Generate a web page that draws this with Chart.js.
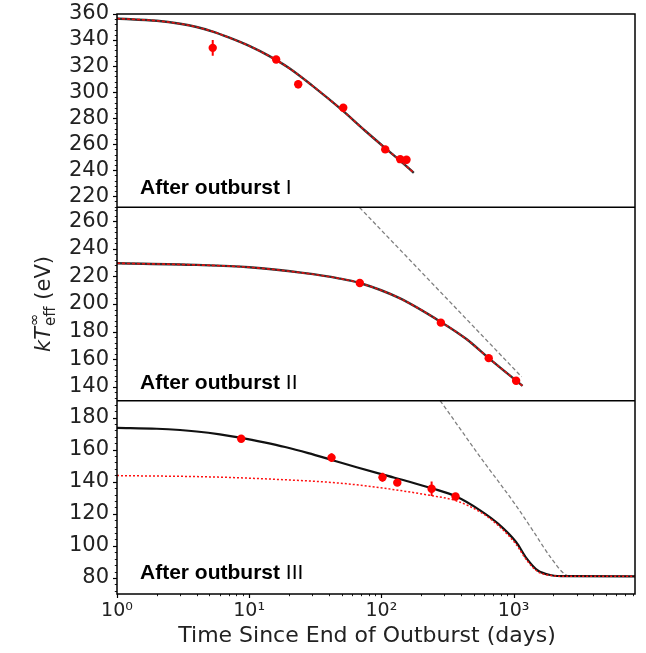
<!DOCTYPE html>
<html><head><meta charset="utf-8">
<script src="https://cdn.jsdelivr.net/npm/chart.js@4.4.1/dist/chart.umd.min.js"></script>
<style>html,body{margin:0;padding:0;background:#fff;}canvas{display:block;}</style>
</head><body>
<canvas id="c" width="646" height="653"></canvas>
<script>
// ---------- data ----------
const X_MIN = 1, X_MAX = 8300;
const X_TICKS = [1, 10, 100, 1000];
const X_TICK_LABELS = ['10\u2070', '10\u00B9', '10\u00B2', '10\u00B3'];
const X_TITLE = 'Time Since End of Outburst (days)';

const PANEL_LABELS = ['After outburst', 'After outburst', 'After outburst'];
const PANEL_NUMERALS = ['I', 'II', 'III'];

const P1_RANGE = [211.5, 360];
const P2_RANGE = [130, 270];
const P3_RANGE = [70, 190.5];
const P1_TICKS = [220, 240, 260, 280, 300, 320, 340, 360];
const P2_TICKS = [140, 160, 180, 200, 220, 240, 260];
const P3_TICKS = [80, 100, 120, 140, 160, 180];

// observed temperatures (days, eV, 1-sigma)
const P1_T   = [5.3, 16.0, 23.5, 51.5, 107, 139, 155];
const P1_KT  = [334, 325, 306, 288, 256, 248.5, 248];
const P1_ERR = [6, 2.5, 3, 2.5, 2, 2.5, 3];

const P2_T   = [68.7, 282, 649, 1046];
const P2_KT  = [215.2, 186.5, 160.8, 144.4];
const P2_ERR = [1.5, 1.5, 1.5, 1.5];

const P3_T   = [8.7, 42, 102, 132, 240, 364];
const P3_KT  = [166.8, 155, 142.7, 139.4, 135.6, 130.8];
const P3_ERR = [1.5, 2.8, 2.8, 1.5, 4.5, 2];

// model curves
const P1_FIT_T  = [1, 2, 3, 4, 5.3, 7, 10, 14, 20, 30, 50, 75, 107, 140, 176];
const P1_FIT_KT = [356.5, 354.8, 352.5, 350, 346.5, 342, 335.5, 328, 318.5, 305, 286.5, 270.5, 257, 247, 238];

const P2_FIT_T  = [1, 4, 10, 25.5, 47.4, 68.7, 136, 282, 440, 649, 1170];
const P2_FIT_KT = [229.5, 228.3, 226.6, 222.5, 218.6, 215.2, 204.4, 187, 174.6, 160.8, 140.7];
const P2_COOL_T  = [50, 68.7, 150, 300, 600, 1150];
const P2_COOL_KT = [283.5, 269.7, 235.8, 205.7, 175.6, 147.3];

const P3_BLACK_T  = [1, 2, 3, 4, 6, 8.76, 13, 18.7, 28, 42.7, 65, 103, 163, 241, 365, 562, 767, 1045, 1260, 1515, 1940, 2500, 8300];
const P3_BLACK_KT = [173.5, 173, 172.2, 171.3, 169.5, 167.3, 164.5, 161.6, 157.8, 153.4, 149, 144.4, 140, 135.9, 130.9, 122, 113.7, 102.4, 92, 84.8, 81.7, 81.1, 81];
const P3_RED_T  = [1, 5, 13.8, 47, 103, 240, 365, 562, 767, 1045, 1260, 1515, 1940, 2500, 8300];
const P3_RED_KT = [143.8, 143, 141.7, 139.2, 136, 131.3, 128.2, 121, 112.7, 101, 91, 84.1, 81.5, 81, 81];
const P3_COOL_T  = [200, 276, 562, 1045, 1425, 1940, 2485, 2800, 8300];
const P3_COOL_KT = [207, 191, 155.2, 125.1, 108.6, 92, 82, 81.2, 81];

// ---------- helpers ----------
const pts = (t, v) => t.map((x, i) => ({x: x, y: v[i]}));
function pointsDS(axis, t, v, err) {
  return {type: 'line', yAxisID: axis, data: pts(t, v), errors: err, showLine: false,
    pointRadius: 4.2, pointBorderWidth: 0, pointBackgroundColor: '#ff0000',
    backgroundColor: '#ff0000', borderColor: '#ff0000'};
}
function lineDS(axis, t, v, color, width, dash) {
  return {type: 'line', yAxisID: axis, data: pts(t, v), borderColor: color,
    borderWidth: width, borderDash: dash || [], pointRadius: 0, fill: false,
    cubicInterpolationMode: 'monotone'};
}

const datasets = [
  pointsDS('y1', P1_T, P1_KT, P1_ERR),
  pointsDS('y2', P2_T, P2_KT, P2_ERR),
  pointsDS('y3', P3_T, P3_KT, P3_ERR),
  lineDS('y1', P1_FIT_T, P1_FIT_KT, '#e01010', 1.6, [3, 2]),
  lineDS('y2', P2_FIT_T, P2_FIT_KT, '#e01010', 1.6, [3, 2]),
  lineDS('y3', P3_RED_T, P3_RED_KT, '#ff1010', 1.5, [2, 2]),
  lineDS('y1', P1_FIT_T, P1_FIT_KT, '#333333', 2.4),
  lineDS('y2', P2_FIT_T, P2_FIT_KT, '#333333', 2.4),
  lineDS('y3', P3_BLACK_T, P3_BLACK_KT, '#111111', 2.2),
  lineDS('y2', P2_COOL_T, P2_COOL_KT, '#808080', 1.3, [4, 2.5]),
  lineDS('y3', P3_COOL_T, P3_COOL_KT, '#808080', 1.3, [4, 2.5])
];

const TICK_FONT = {family: 'DejaVu Sans', size: 21, lineHeight: 0.5};
function yScale(range, ticks, weight) {
  return {
    type: 'linear', position: 'left', stack: 'panels', stackWeight: 1, weight: weight,
    min: range[0], max: range[1],
    grid: {display: false, drawTicks: false}, border: {display: false},
    afterBuildTicks: s => { s.ticks = ticks.map(v => ({value: v})); },
    afterFit: s => { s.width = 117; },
    ticks: {font: TICK_FONT, color: '#222', padding: 8, autoSkip: false, callback: v => String(v)}
  };
}

const panelPlugin = {
  id: 'panelPlugin',
  beforeDatasetDraw(chart, args) {
    const ctx = chart.ctx, a = chart.chartArea, ys = args.meta.yScale, xs = args.meta.xScale;
    ctx.save();
    ctx.beginPath();
    ctx.rect(a.left, ys.top, a.right - a.left, ys.bottom - ys.top);
    ctx.clip();
    const ds = chart.data.datasets[args.index];
    if (ds.errors) {
      ctx.strokeStyle = '#ff0000'; ctx.lineWidth = 2;
      ds.data.forEach((p, i) => {
        const px = xs.getPixelForValue(p.x);
        ctx.beginPath();
        ctx.moveTo(px, ys.getPixelForValue(p.y - ds.errors[i]));
        ctx.lineTo(px, ys.getPixelForValue(p.y + ds.errors[i]));
        ctx.stroke();
      });
    }
  },
  afterDatasetDraw(chart) { chart.ctx.restore(); },
  afterDraw(chart) {
    const ctx = chart.ctx, a = chart.chartArea, xs = chart.scales.x;
    const ys = [chart.scales.y1, chart.scales.y2, chart.scales.y3];
    const TICKS = [P1_TICKS, P2_TICKS, P3_TICKS];
    ctx.save();
    ctx.strokeStyle = '#000';
    // y ticks
    ys.forEach((s, k) => {
      ctx.lineWidth = 1.2;
      TICKS[k].forEach(v => {
        const py = Math.round(s.getPixelForValue(v)) + 0.5;
        ctx.beginPath(); ctx.moveTo(a.left, py); ctx.lineTo(a.left - 4, py); ctx.stroke();
      });
      ctx.lineWidth = 0.9;
      for (let v = Math.ceil(s.min / 4) * 4; v <= s.max; v += 4) {
        if (v % 20 === 0) continue;
        const py = Math.round(s.getPixelForValue(v)) + 0.5;
        ctx.beginPath(); ctx.moveTo(a.left, py); ctx.lineTo(a.left - 2.2, py); ctx.stroke();
      }
    });
    // x ticks
    for (let d = 1; d <= X_MAX; d *= 10) {
      for (let m = 1; m <= 9; m++) {
        const v = d * m;
        if (v < X_MIN || v > X_MAX) continue;
        const px = Math.round(xs.getPixelForValue(v)) + 0.5;
        ctx.lineWidth = m === 1 ? 1.2 : 0.9;
        ctx.beginPath(); ctx.moveTo(px, a.bottom); ctx.lineTo(px, a.bottom + (m === 1 ? 4 : 2.2)); ctx.stroke();
      }
    }
    // box and separators
    ctx.lineWidth = 1.5;
    ctx.strokeRect(a.left, a.top, a.right - a.left, a.bottom - a.top);
    [ys[1].top, ys[2].top].forEach(y => {
      ctx.beginPath(); ctx.moveTo(a.left, y); ctx.lineTo(a.right, y); ctx.stroke();
    });
    // panel labels
    const offs = [13, 12, 15];
    ys.forEach((s, k) => {
      const by = s.bottom - offs[k];
      ctx.fillStyle = '#000';
      ctx.textBaseline = 'alphabetic'; ctx.textAlign = 'left';
      ctx.font = 'bold 21px "Liberation Sans"';
      const t1 = PANEL_LABELS[k] + ' ';
      ctx.fillText(t1, 140, by);
      const w1 = ctx.measureText(t1).width;
      ctx.font = '21px "Liberation Sans"';
      ctx.fillText(PANEL_NUMERALS[k], 140 + w1, by);
    });
    // x title
    ctx.fillStyle = '#222';
    ctx.font = '22px "DejaVu Sans"';
    ctx.textAlign = 'center'; ctx.textBaseline = 'middle';
    ctx.fillText(X_TITLE, (a.left + a.right) / 2 - 9, 636);
    // y title
    ctx.save();
    ctx.translate(42, (a.top + a.bottom) / 2);
    ctx.rotate(-Math.PI / 2);
    ctx.textAlign = 'left'; ctx.textBaseline = 'alphabetic';
    const F = 21, fi = 'italic ' + F + 'px "DejaVu Sans"', fn = F + 'px "DejaVu Sans"', fs = Math.round(F * 0.7) + 'px "DejaVu Sans"';
    ctx.font = fi; const wk = ctx.measureText('k').width, wT = ctx.measureText('T').width;
    ctx.font = fs; const wInf = ctx.measureText('\u221E').width, wEff = ctx.measureText('eff').width;
    ctx.font = fn; const wRest = ctx.measureText(' (eV)').width;
    const total = wk + wT + Math.max(wInf, wEff) + 1 + wRest;
    let x0 = -total / 2; const base = F * 0.36;
    ctx.font = fi; ctx.fillText('k', x0, base); x0 += wk; ctx.fillText('T', x0, base); x0 += wT + 1;
    ctx.font = fs; ctx.fillText('\u221E', x0, base - F * 0.48); ctx.fillText('eff', x0, base + F * 0.26);
    x0 += Math.max(wInf, wEff);
    ctx.font = fn; ctx.fillText(' (eV)', x0, base);
    ctx.restore();
    ctx.restore();
  }
};

new Chart(document.getElementById('c'), {
  type: 'line',
  data: {datasets: datasets},
  plugins: [panelPlugin],
  options: {
    responsive: false, animation: false, devicePixelRatio: 1,
    layout: {padding: {left: 0, right: 11, top: 14, bottom: 0}},
    plugins: {legend: {display: false}, tooltip: {enabled: false}, title: {display: false}},
    scales: {
      x: {
        type: 'logarithmic', position: 'bottom', min: X_MIN, max: X_MAX,
        grid: {display: false, drawTicks: false}, border: {display: false},
        afterBuildTicks: s => { s.ticks = X_TICKS.map(v => ({value: v})); },
        afterFit: s => { s.height = 59; },
        ticks: {font: {family: 'DejaVu Sans', size: 19}, color: '#222', padding: 6, maxRotation: 0, autoSkip: false,
          callback: (v) => { const i = X_TICKS.indexOf(v); return i >= 0 ? X_TICK_LABELS[i] : ''; }}
      },
      y3: yScale(P3_RANGE, P3_TICKS, 1),
      y2: yScale(P2_RANGE, P2_TICKS, 1),
      y1: yScale(P1_RANGE, P1_TICKS, 1)
    }
  }
});
</script>
</body></html>
